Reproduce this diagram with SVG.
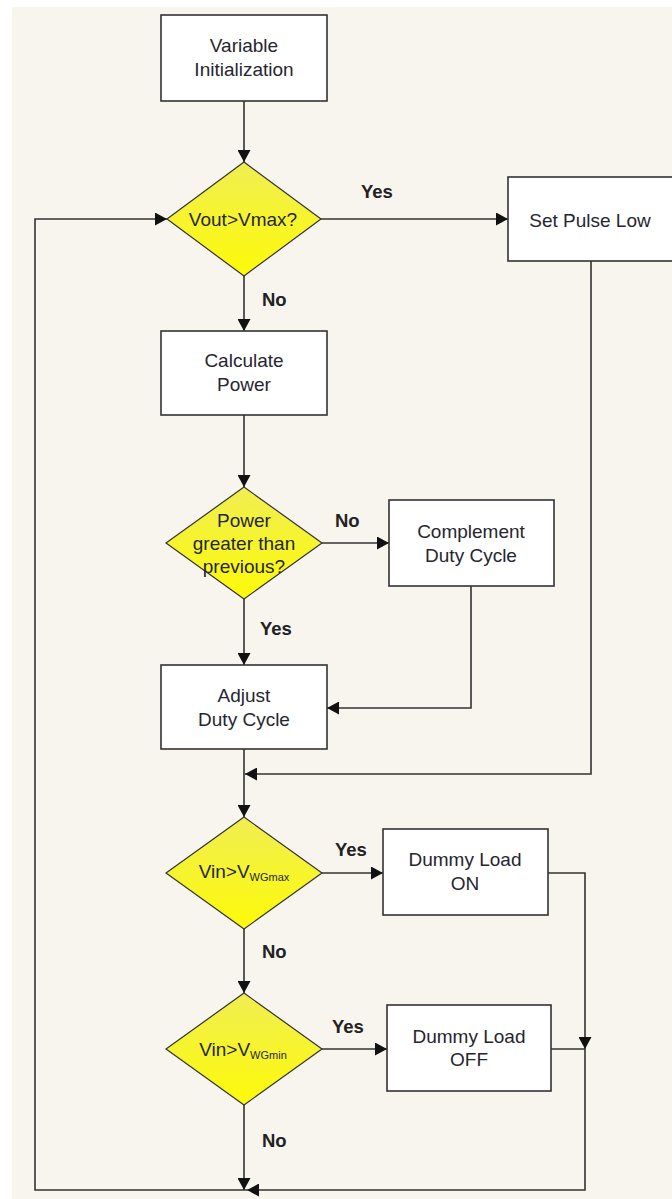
<svg xmlns="http://www.w3.org/2000/svg" width="672" height="1199" viewBox="0 0 672 1199">
  <style>
    .box { fill: #ffffff; stroke: #333333; stroke-width: 1.6; }
    .dia { fill: url(#yel); stroke: #333333; stroke-width: 1.2; }
    .txt { font-family: "Liberation Sans", Arial, sans-serif; font-size: 19px; fill: #262630; text-anchor: middle; }
    .sub { font-size: 11px; }
    .lbl { font-family: "Liberation Sans", Arial, sans-serif; font-size: 18.5px; font-weight: bold; fill: #222222; }
    .wire { fill: none; stroke: #333333; stroke-width: 1.6; }
  </style>
  <defs>
    <linearGradient id="yel" x1="0" y1="0" x2="0" y2="1">
      <stop offset="0" stop-color="#f0ee52"/>
      <stop offset="1" stop-color="#fdfa08"/>
    </linearGradient>
    <marker id="arrow" markerUnits="userSpaceOnUse" markerWidth="13" markerHeight="13" refX="12" refY="6.5" orient="auto">
      <path d="M0,0 L12,6.5 L0,13 z" fill="#111111"/>
    </marker>
  </defs>

  <!-- canvas -->
  <rect x="0" y="0" width="672" height="1199" fill="#ffffff"/>
  <rect x="12" y="7" width="660" height="1192" fill="#f8f5ef"/>

  <!-- connectors -->
  <g id="connectors">
    <path class="wire" d="M244,101 V162" marker-end="url(#arrow)"/>
    <path class="wire" d="M321,219 H508" marker-end="url(#arrow)"/>
    <path class="wire" d="M244,276 V331" marker-end="url(#arrow)"/>
    <path class="wire" d="M244,415 V487" marker-end="url(#arrow)"/>
    <path class="wire" d="M322,543 H389" marker-end="url(#arrow)"/>
    <path class="wire" d="M244,599 V665" marker-end="url(#arrow)"/>
    <path class="wire" d="M471,586 V708 H327" marker-end="url(#arrow)"/>
    <path class="wire" d="M591,261 V774 H245" marker-end="url(#arrow)"/>
    <path class="wire" d="M244,749 V817" marker-end="url(#arrow)"/>
    <path class="wire" d="M322,873 H383" marker-end="url(#arrow)"/>
    <path class="wire" d="M244,929 V993" marker-end="url(#arrow)"/>
    <path class="wire" d="M322,1049 H387" marker-end="url(#arrow)"/>
    <path class="wire" d="M548,873 H585 V1049" marker-end="url(#arrow)"/>
    <path class="wire" d="M551,1049 H585"/>
    <path class="wire" d="M585,1049 V1190 H247" marker-end="url(#arrow)"/>
    <path class="wire" d="M247,1190 H35 V219 H167" marker-end="url(#arrow)"/>
    <path class="wire" d="M244,1105 V1190" marker-end="url(#arrow)"/>
  </g>

  <!-- branch labels -->
  <g id="labels">
    <text class="lbl" x="361" y="198">Yes</text>
    <text class="lbl" x="262" y="306">No</text>
    <text class="lbl" x="335" y="527">No</text>
    <text class="lbl" x="260" y="635">Yes</text>
    <text class="lbl" x="335" y="856">Yes</text>
    <text class="lbl" x="262" y="958">No</text>
    <text class="lbl" x="332" y="1033">Yes</text>
    <text class="lbl" x="262" y="1147">No</text>
  </g>

  <!-- nodes -->
  <g id="init">
    <rect class="box" x="161" y="15" width="166" height="86"/>
    <text class="txt" x="244" y="52">Variable</text>
    <text class="txt" x="244" y="76">Initialization</text>
  </g>

  <g id="check-vmax">
    <polygon class="dia" points="244,162 321,219 244,276 167,219"/>
    <text class="txt" x="243" y="226">Vout&gt;Vmax?</text>
  </g>

  <g id="pulse-low">
    <rect class="box" x="508" y="177" width="166" height="84"/>
    <text class="txt" x="590" y="227">Set Pulse Low</text>
  </g>

  <g id="calc-power">
    <rect class="box" x="161" y="331" width="166" height="84"/>
    <text class="txt" x="244" y="367">Calculate</text>
    <text class="txt" x="244" y="391">Power</text>
  </g>

  <g id="check-power">
    <polygon class="dia" points="244,487 322,543 244,599 166,543"/>
    <text class="txt" x="244" y="527">Power</text>
    <text class="txt" x="244" y="550">greater than</text>
    <text class="txt" x="244" y="573">previous?</text>
  </g>

  <g id="complement">
    <rect class="box" x="389" y="500" width="165" height="86"/>
    <text class="txt" x="471" y="538">Complement</text>
    <text class="txt" x="471" y="562">Duty Cycle</text>
  </g>

  <g id="adjust">
    <rect class="box" x="161" y="665" width="166" height="84"/>
    <text class="txt" x="244" y="702">Adjust</text>
    <text class="txt" x="244" y="726">Duty Cycle</text>
  </g>

  <g id="check-wgmax">
    <polygon class="dia" points="244,817 322,873 244,929 166,873"/>
    <text class="txt" x="244" y="878">Vin&gt;V<tspan class="sub" dy="3">WGmax</tspan></text>
  </g>

  <g id="load-on">
    <rect class="box" x="383" y="829" width="165" height="86"/>
    <text class="txt" x="465" y="866">Dummy Load</text>
    <text class="txt" x="465" y="890">ON</text>
  </g>

  <g id="check-wgmin">
    <polygon class="dia" points="244,993 322,1049 244,1105 166,1049"/>
    <text class="txt" x="243" y="1056">Vin&gt;V<tspan class="sub" dy="3">WGmin</tspan></text>
  </g>

  <g id="load-off">
    <rect class="box" x="387" y="1005" width="164" height="86"/>
    <text class="txt" x="469" y="1043">Dummy Load</text>
    <text class="txt" x="469" y="1066">OFF</text>
  </g>
</svg>
